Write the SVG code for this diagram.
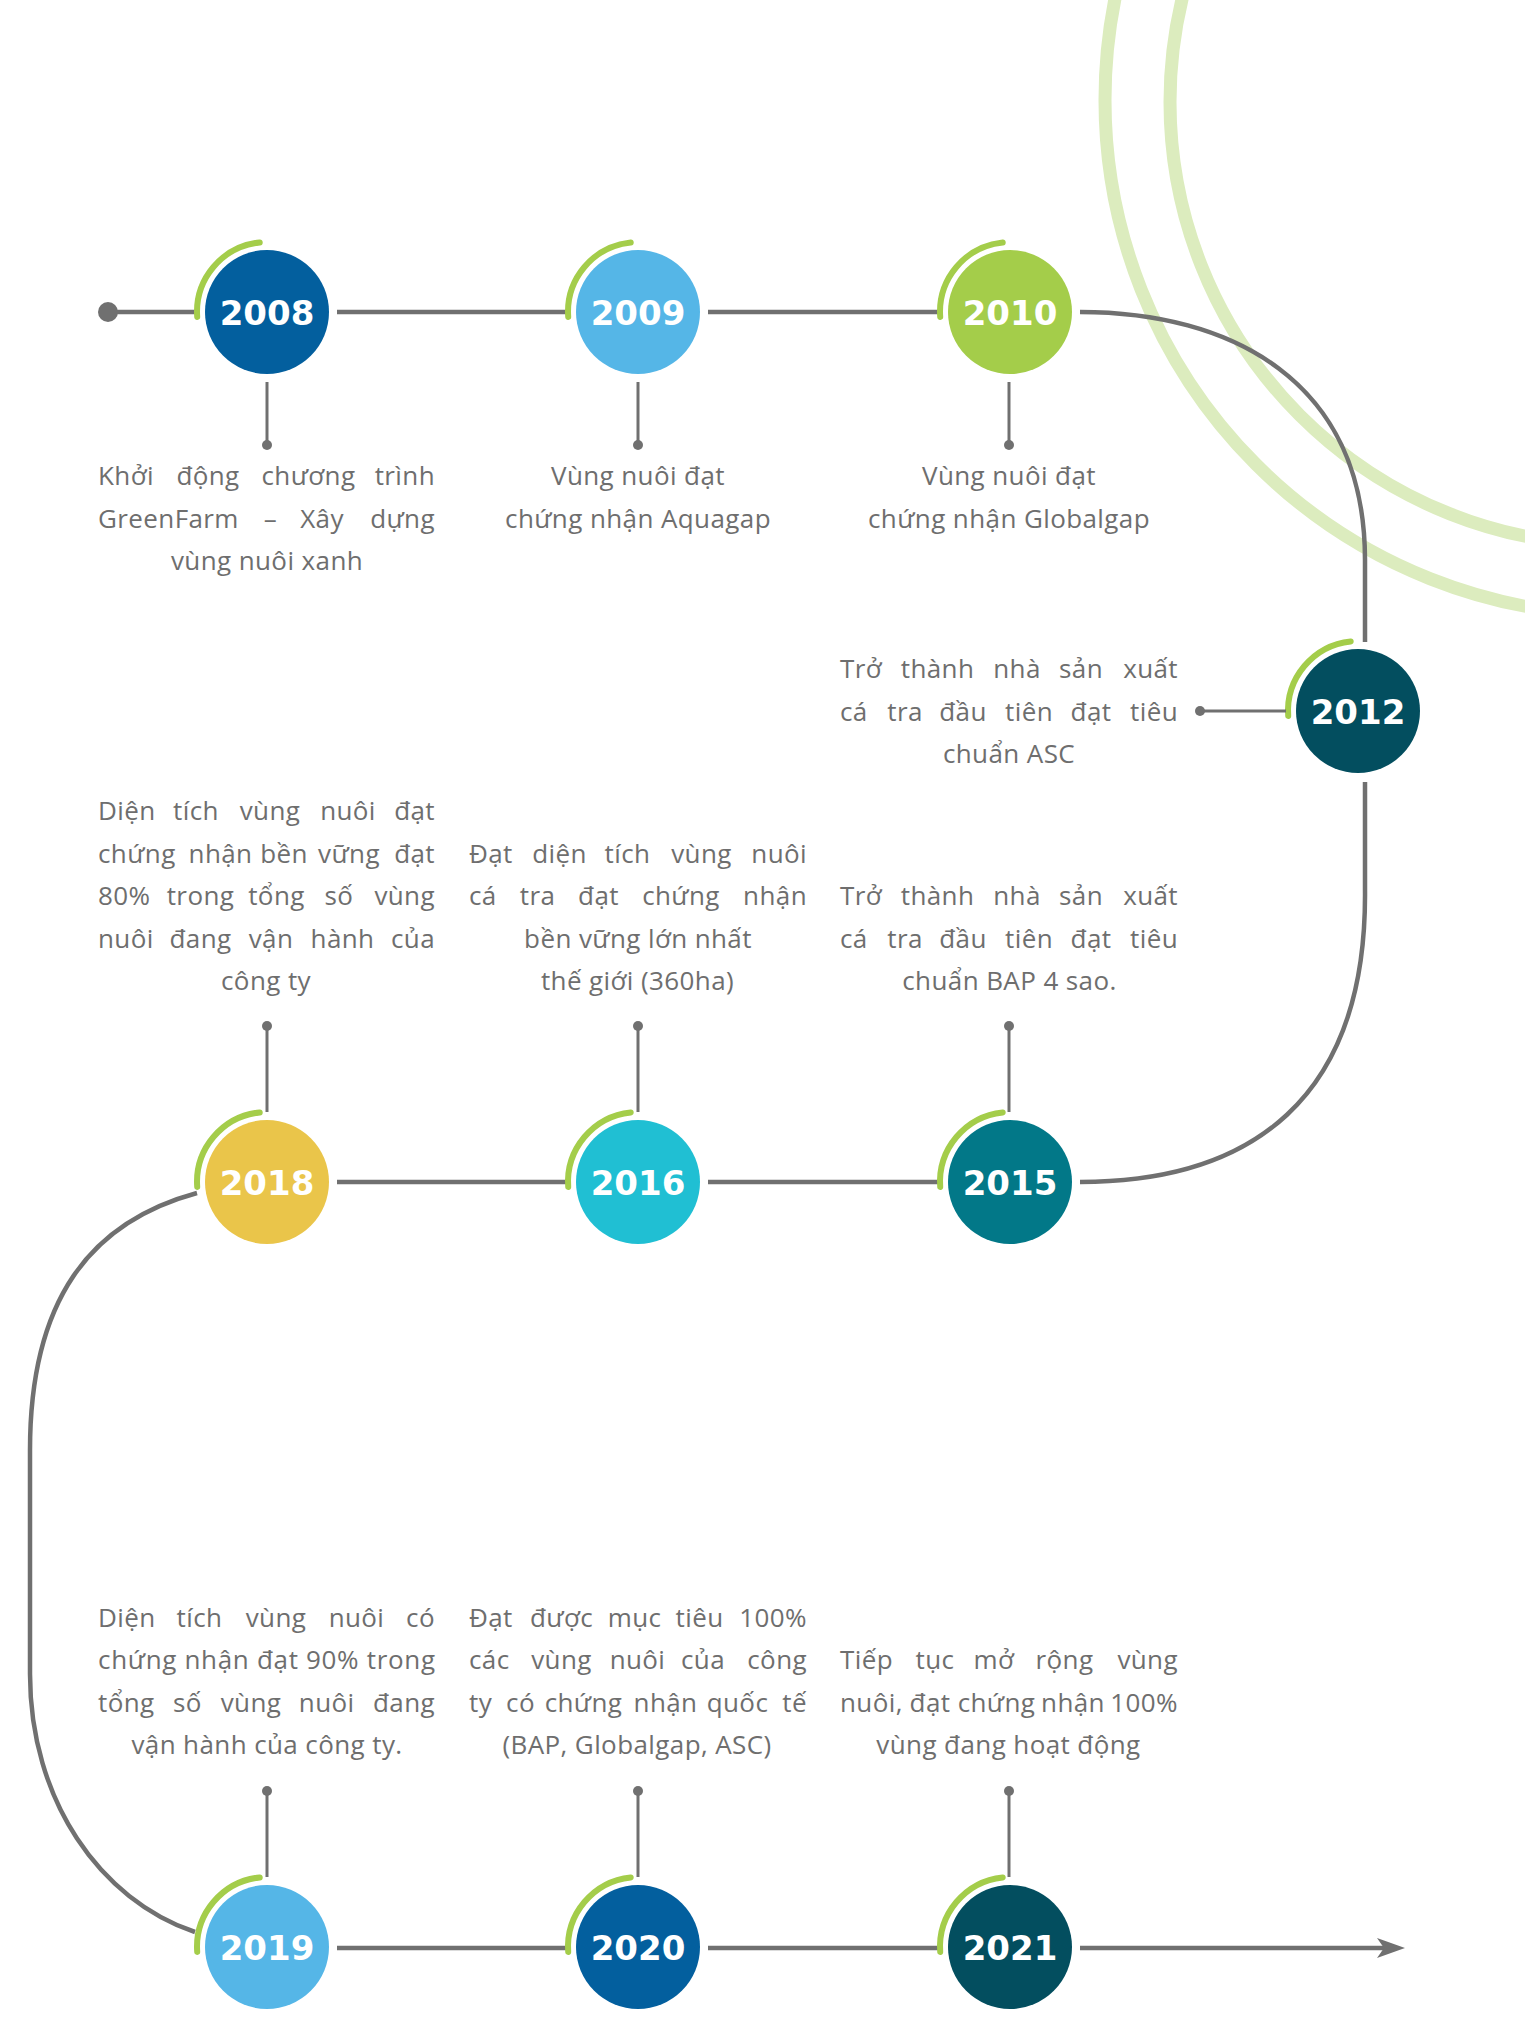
<svg xmlns="http://www.w3.org/2000/svg" width="1525" height="2022" viewBox="0 0 1525 2022">
<style>
.t{font-family:"Open Sans","Noto Sans",sans-serif;font-size:26px;fill:#6e6e6e;letter-spacing:0.4px}
.s{text-anchor:start}.m{text-anchor:middle}.e{text-anchor:end}
.y{font-family:"DejaVu Sans",sans-serif;font-weight:bold;font-size:34px;fill:#fff;text-anchor:middle}
.main{stroke:#707070;stroke-width:4.5;fill:none}
.conn{stroke:#707070;stroke-width:3;fill:none}
.dot{fill:#707070}
.arc{stroke:#a4cd4a;stroke-width:6;fill:none;stroke-linecap:round}
.bg{stroke:#dcecbe;stroke-width:13;fill:none}
</style>
<rect width="1525" height="2022" fill="#fff"/>
<g id="decor">
<circle class="bg" cx="1620" cy="100" r="515"/>
<circle class="bg" cx="1613" cy="102" r="443"/>
</g>
<g id="connectors">
<circle class="dot" cx="108" cy="312" r="10"/>
<path class="main" d="M108,312 H195"/>
<path class="main" d="M337,312 H566"/>
<path class="main" d="M708,312 H938"/>
<path class="main" d="M1080,312 C1230,312 1365,380 1365,560 V642"/>
<path class="main" d="M1365,782 V890 C1367,1100 1250,1182 1080,1182"/>
<path class="main" d="M708,1182 H938"/>
<path class="main" d="M337,1182 H566"/>
<path class="main" d="M197,1193 C90,1222 30,1300 30,1450 V1674 C30,1800 100,1900 195,1932"/>
<path class="main" d="M337,1948 H566"/>
<path class="main" d="M708,1948 H938"/>
<path class="main" d="M1080,1948 H1388"/>
<polygon class="dot" points="1405,1948 1377,1938 1384,1948 1377,1958"/>
</g>

<g id="n2008">
<path class="arc" d="M197.2,316.9 A70,70 0 0 1 259.7,242.4"/>
<circle cx="267" cy="312" r="62" fill="#035f9e"/>
<text class="y" x="267" y="325">2008</text>
<path class="conn" d="M267,382 V445"/><circle class="dot" cx="267" cy="445" r="5"/>
<text class="t" y="485"><tspan class="s" x="98">Khởi</tspan><tspan class="m" x="208">động</tspan><tspan class="m" x="308.5">chương</tspan><tspan class="e" x="435">trình</tspan></text>
<text class="t" y="528"><tspan class="s" x="98">GreenFarm</tspan><tspan class="m" x="270.5">–</tspan><tspan class="m" x="322">Xây</tspan><tspan class="e" x="435">dựng</tspan></text>
<text class="t m" x="267" y="570">vùng nuôi xanh</text>
</g>

<g id="n2009">
<path class="arc" d="M568.2,316.9 A70,70 0 0 1 630.7,242.4"/>
<circle cx="638" cy="312" r="62" fill="#55b6e7"/>
<text class="y" x="638" y="325">2009</text>
<path class="conn" d="M638,382 V445"/><circle class="dot" cx="638" cy="445" r="5"/>
<text class="t m" x="638" y="485">Vùng nuôi đạt</text>
<text class="t m" x="638" y="528">chứng nhận Aquagap</text>
</g>

<g id="n2010">
<path class="arc" d="M940.2,316.9 A70,70 0 0 1 1002.7,242.4"/>
<circle cx="1010" cy="312" r="62" fill="#a4cd4a"/>
<text class="y" x="1010" y="325">2010</text>
<path class="conn" d="M1009,382 V445"/><circle class="dot" cx="1009" cy="445" r="5"/>
<text class="t m" x="1009" y="485">Vùng nuôi đạt</text>
<text class="t m" x="1009" y="528">chứng nhận Globalgap</text>
</g>

<g id="n2012">
<path class="arc" d="M1288.2,715.9 A70,70 0 0 1 1350.7,641.4"/>
<circle cx="1358" cy="711" r="62" fill="#034e5f"/>
<text class="y" x="1358" y="724">2012</text>
<path class="conn" d="M1200,711 H1286"/><circle class="dot" cx="1200" cy="711" r="5"/>
<text class="t" y="678"><tspan class="s" x="840">Trở</tspan><tspan class="m" x="937.5">thành</tspan><tspan class="m" x="1017">nhà</tspan><tspan class="m" x="1081">sản</tspan><tspan class="e" x="1178">xuất</tspan></text>
<text class="t" y="721"><tspan class="s" x="840">cá</tspan><tspan class="m" x="905">tra</tspan><tspan class="m" x="963">đầu</tspan><tspan class="m" x="1029">tiên</tspan><tspan class="m" x="1091">đạt</tspan><tspan class="e" x="1178">tiêu</tspan></text>
<text class="t m" x="1009" y="763">chuẩn ASC</text>
</g>

<g id="n2015">
<path class="arc" d="M940.2,1186.9 A70,70 0 0 1 1002.7,1112.4"/>
<circle cx="1010" cy="1182" r="62" fill="#027888"/>
<text class="y" x="1010" y="1195">2015</text>
<path class="conn" d="M1009,1026 V1112"/><circle class="dot" cx="1009" cy="1026" r="5"/>
<text class="t" y="905"><tspan class="s" x="840">Trở</tspan><tspan class="m" x="937.5">thành</tspan><tspan class="m" x="1017">nhà</tspan><tspan class="m" x="1081">sản</tspan><tspan class="e" x="1178">xuất</tspan></text>
<text class="t" y="948"><tspan class="s" x="840">cá</tspan><tspan class="m" x="905">tra</tspan><tspan class="m" x="963">đầu</tspan><tspan class="m" x="1029">tiên</tspan><tspan class="m" x="1091">đạt</tspan><tspan class="e" x="1178">tiêu</tspan></text>
<text class="t m" x="1009.5" y="990">chuẩn BAP 4 sao.</text>
</g>

<g id="n2016">
<path class="arc" d="M568.2,1186.9 A70,70 0 0 1 630.7,1112.4"/>
<circle cx="638" cy="1182" r="62" fill="#20bfd3"/>
<text class="y" x="638" y="1195">2016</text>
<path class="conn" d="M638,1026 V1112"/><circle class="dot" cx="638" cy="1026" r="5"/>
<text class="t" y="863"><tspan class="s" x="469">Đạt</tspan><tspan class="m" x="559.5">diện</tspan><tspan class="m" x="627.5">tích</tspan><tspan class="m" x="701.5">vùng</tspan><tspan class="e" x="807">nuôi</tspan></text>
<text class="t" y="905"><tspan class="s" x="469">cá</tspan><tspan class="m" x="537.5">tra</tspan><tspan class="m" x="598.5">đạt</tspan><tspan class="m" x="681">chứng</tspan><tspan class="e" x="807">nhận</tspan></text>
<text class="t m" x="638" y="948">bền vững lớn nhất</text>
<text class="t m" x="637.5" y="990">thế giới (360ha)</text>
</g>

<g id="n2018">
<path class="arc" d="M197.2,1186.9 A70,70 0 0 1 259.7,1112.4"/>
<circle cx="267" cy="1182" r="62" fill="#eac54a"/>
<text class="y" x="267" y="1195">2018</text>
<path class="conn" d="M267,1026 V1112"/><circle class="dot" cx="267" cy="1026" r="5"/>
<text class="t" y="820"><tspan class="s" x="98">Diện</tspan><tspan class="m" x="196">tích</tspan><tspan class="m" x="270">vùng</tspan><tspan class="m" x="348">nuôi</tspan><tspan class="e" x="435">đạt</tspan></text>
<text class="t" y="863"><tspan class="s" x="98">chứng</tspan><tspan class="m" x="220.5">nhận</tspan><tspan class="m" x="284">bền</tspan><tspan class="m" x="349">vững</tspan><tspan class="e" x="435">đạt</tspan></text>
<text class="t" y="905"><tspan class="s" x="98">80%</tspan><tspan class="m" x="200.5">trong</tspan><tspan class="m" x="276.5">tổng</tspan><tspan class="m" x="339">số</tspan><tspan class="e" x="435">vùng</tspan></text>
<text class="t" y="948"><tspan class="s" x="98">nuôi</tspan><tspan class="m" x="200.5">đang</tspan><tspan class="m" x="271">vận</tspan><tspan class="m" x="342.5">hành</tspan><tspan class="e" x="435">của</tspan></text>
<text class="t m" x="266" y="990">công ty</text>
</g>

<g id="n2019">
<path class="arc" d="M197.2,1951.9 A70,70 0 0 1 259.7,1877.4"/>
<circle cx="267" cy="1947" r="62" fill="#55b6e7"/>
<text class="y" x="267" y="1960">2019</text>
<path class="conn" d="M267,1791 V1877"/><circle class="dot" cx="267" cy="1791" r="5"/>
<text class="t" y="1627"><tspan class="s" x="98">Diện</tspan><tspan class="m" x="199.5">tích</tspan><tspan class="m" x="276">vùng</tspan><tspan class="m" x="356.5">nuôi</tspan><tspan class="e" x="435">có</tspan></text>
<text class="t" x="98" y="1669" textLength="337" lengthAdjust="spacing" style="letter-spacing:0">chứng nhận đạt 90% trong</text>
<text class="t" y="1712"><tspan class="s" x="98">tổng</tspan><tspan class="m" x="187.5">số</tspan><tspan class="m" x="251">vùng</tspan><tspan class="m" x="326.7">nuôi</tspan><tspan class="e" x="435">đang</tspan></text>
<text class="t m" x="267" y="1754">vận hành của công ty.</text>
</g>

<g id="n2020">
<path class="arc" d="M568.2,1951.9 A70,70 0 0 1 630.7,1877.4"/>
<circle cx="638" cy="1947" r="62" fill="#035f9e"/>
<text class="y" x="638" y="1960">2020</text>
<path class="conn" d="M638,1791 V1877"/><circle class="dot" cx="638" cy="1791" r="5"/>
<text class="t" y="1627"><tspan class="s" x="469">Đạt</tspan><tspan class="m" x="561.5">được</tspan><tspan class="m" x="634.5">mục</tspan><tspan class="m" x="699.5">tiêu</tspan><tspan class="e" x="807">100%</tspan></text>
<text class="t" y="1669"><tspan class="s" x="469">các</tspan><tspan class="m" x="561.5">vùng</tspan><tspan class="m" x="637.5">nuôi</tspan><tspan class="m" x="703">của</tspan><tspan class="e" x="807">công</tspan></text>
<text class="t" y="1712"><tspan class="s" x="469">ty</tspan><tspan class="m" x="520.5">có</tspan><tspan class="m" x="583.5">chứng</tspan><tspan class="m" x="665.5">nhận</tspan><tspan class="m" x="737.5">quốc</tspan><tspan class="e" x="807">tế</tspan></text>
<text class="t m" x="637" y="1754">(BAP, Globalgap, ASC)</text>
</g>

<g id="n2021">
<path class="arc" d="M940.2,1951.9 A70,70 0 0 1 1002.7,1877.4"/>
<circle cx="1010" cy="1947" r="62" fill="#034e5f"/>
<text class="y" x="1010" y="1960">2021</text>
<path class="conn" d="M1009,1791 V1877"/><circle class="dot" cx="1009" cy="1791" r="5"/>
<text class="t" y="1669"><tspan class="s" x="840">Tiếp</tspan><tspan class="m" x="935">tục</tspan><tspan class="m" x="994">mở</tspan><tspan class="m" x="1064.5">rộng</tspan><tspan class="e" x="1178">vùng</tspan></text>
<text class="t" y="1712"><tspan class="s" x="840">nuôi,</tspan><tspan class="m" x="930">đạt</tspan><tspan class="m" x="996.5">chứng</tspan><tspan class="m" x="1073">nhận</tspan><tspan class="e" x="1178">100%</tspan></text>
<text class="t m" x="1008.5" y="1754">vùng đang hoạt động</text>
</g>
</svg>
